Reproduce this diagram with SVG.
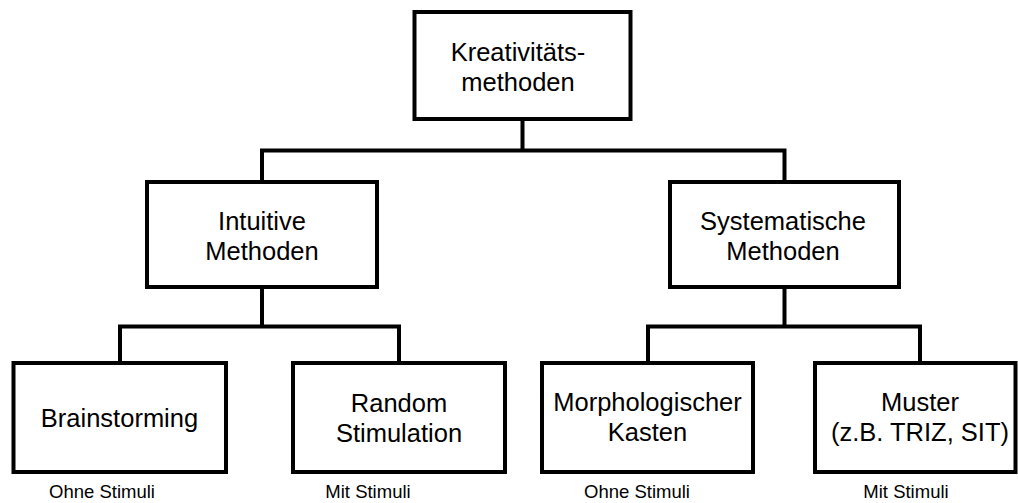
<svg xmlns="http://www.w3.org/2000/svg" width="1018" height="503" viewBox="0 0 1018 503">
  <style>
    .box { fill: #ffffff; stroke: #000000; stroke-width: 4; }
    .link { fill: none; stroke: #000000; stroke-width: 4; stroke-linejoin: miter; stroke-linecap: square; }
    .t { font-family: "Liberation Sans", Arial, sans-serif; font-size: 25.5px; fill: #000000; text-anchor: middle; }
    .note { font-family: "Liberation Sans", Arial, sans-serif; font-size: 18.5px; fill: #000000; text-anchor: middle; }
  </style>
  <rect width="1018" height="503" fill="#ffffff"/>

  <!-- tree connectors -->
  <g id="connectors">
    <path class="link" d="M522.5,119 V150.5 M262,182 V150.5 H784.5 V181"/>
    <path class="link" d="M262,287 V326.5 M120,363 V326.5 H399 V363"/>
    <path class="link" d="M784.5,287 V326.5 M648,363 V326.5 H920 V363"/>
  </g>

  <g id="node-root">
    <rect class="box" x="414.5" y="12" width="216" height="107"/>
    <text class="t" x="518" y="61">Kreativitäts-</text>
    <text class="t" x="518" y="91">methoden</text>
  </g>

  <g id="node-intuitive">
    <rect class="box" x="147" y="182" width="230" height="105"/>
    <text class="t" x="262" y="230">Intuitive</text>
    <text class="t" x="262" y="260">Methoden</text>
  </g>

  <g id="node-systematic">
    <rect class="box" x="670" y="182" width="229" height="105"/>
    <text class="t" x="783" y="230">Systematische</text>
    <text class="t" x="783" y="260">Methoden</text>
  </g>

  <g id="node-brainstorming">
    <rect class="box" x="13.5" y="363" width="212.5" height="109"/>
    <text class="t" x="119.5" y="427">Brainstorming</text>
  </g>

  <g id="node-random">
    <rect class="box" x="293" y="363" width="212" height="109"/>
    <text class="t" x="399" y="412">Random</text>
    <text class="t" x="399" y="442">Stimulation</text>
  </g>

  <g id="node-morph">
    <rect class="box" x="542" y="363" width="211" height="109"/>
    <text class="t" x="647.5" y="411">Morphologischer</text>
    <text class="t" x="647.5" y="441">Kasten</text>
  </g>

  <g id="node-muster">
    <rect class="box" x="815" y="363" width="200.5" height="109"/>
    <text class="t" x="920" y="411">Muster</text>
    <text class="t" x="920" y="441">(z.B. TRIZ, SIT)</text>
  </g>

  <g id="notes">
    <text class="note" x="102" y="498">Ohne Stimuli</text>
    <text class="note" x="368" y="498">Mit Stimuli</text>
    <text class="note" x="637" y="498">Ohne Stimuli</text>
    <text class="note" x="906" y="498">Mit Stimuli</text>
  </g>
</svg>
